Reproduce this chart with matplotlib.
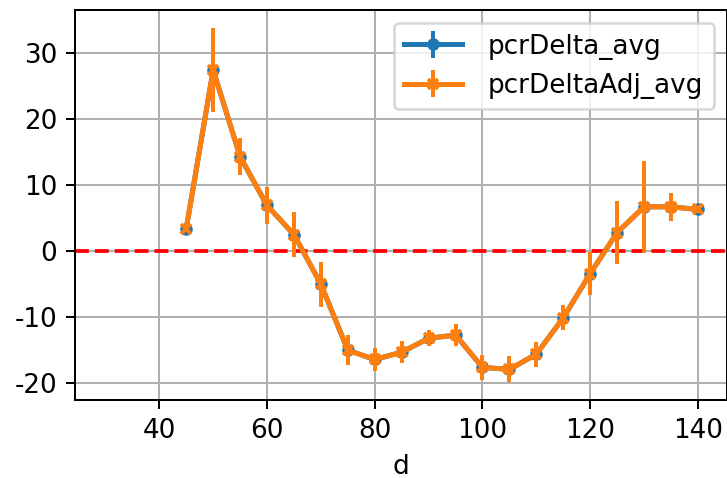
import numpy as np
import matplotlib
matplotlib.use('Agg')
import matplotlib.pyplot as plt

# data
d = [45, 50, 55, 60, 65, 70, 75, 80, 85, 90, 95, 100, 105, 110, 115, 120, 125, 130, 135, 140]
pcrDelta_avg = [3.4, 27.4, 14.3, 6.9, 2.5, -5.0, -15.0, -16.4, -15.3, -13.2, -12.7, -17.6,
                -17.9, -15.6, -10.1, -3.4, 2.8, 6.7, 6.7, 6.3]
pcrDelta_err = [0.5, 6.4, 2.85, 2.8, 3.4, 3.4, 2.3, 1.75, 1.65, 1.2, 1.6, 1.9,
                1.95, 1.9, 1.9, 3.3, 4.8, 7.0, 2.1, 0.5]
pcrDeltaAdj_avg = list(pcrDelta_avg)
pcrDeltaAdj_err = list(pcrDelta_err)

plt.rcParams['font.size'] = 10.5
plt.rcParams['axes.unicode_minus'] = False

fig = plt.figure(figsize=(727 / 180, 478 / 180), dpi=180)
ax = fig.add_axes([75 / 727, 78 / 478, 1 - 75 / 727, 390 / 478])

ax.errorbar(d, pcrDelta_avg, yerr=pcrDelta_err, marker='o', markersize=4,
            linewidth=2, elinewidth=1.6, color='tab:blue', label='pcrDelta_avg', zorder=3)
ax.errorbar(d, pcrDeltaAdj_avg, yerr=pcrDeltaAdj_err, marker='x', markersize=4,
            mew=1.5, linewidth=2, elinewidth=1.6, color='tab:orange',
            label='pcrDeltaAdj_avg', zorder=4)
ax.axhline(0, color='red', linestyle='--', linewidth=1.5, zorder=2)

ax.set_xlim(24.35, 145.4)
ax.grid(True, color='#b0b0b0', linewidth=0.8)
ax.set_axisbelow(True)
ax.set_xlabel('d', labelpad=4)
ax.legend(loc='upper right', fontsize=10.5, handlelength=2.2, handletextpad=1.0)

fig.savefig('out.png', dpi=180)
